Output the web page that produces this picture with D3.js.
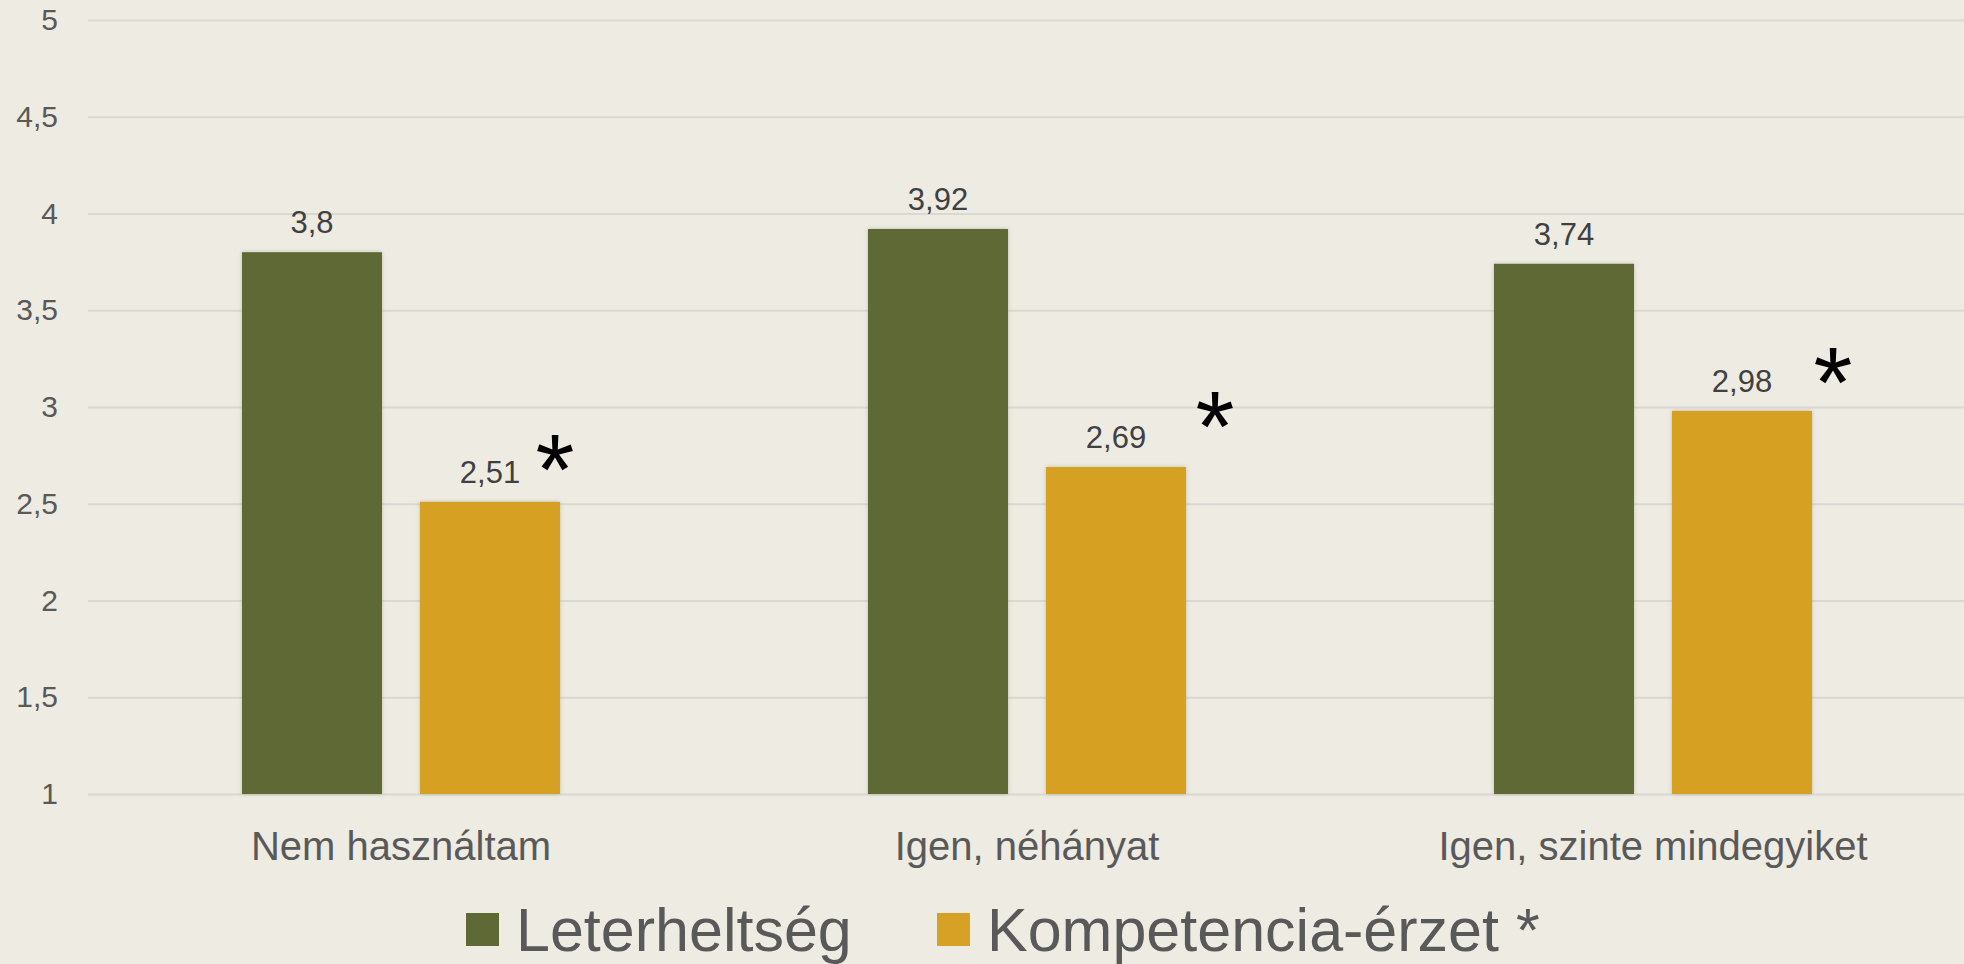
<!DOCTYPE html>
<html>
<head>
<meta charset="utf-8">
<script src="https://cdn.jsdelivr.net/npm/d3@7"></script>
<style>
  html, body { margin: 0; padding: 0; background: #eeebe3; }
  svg { display: block; }
  text { font-family: "Liberation Sans", Arial, sans-serif; }
</style>
</head>
<body>
<svg id="chart"></svg>
<script>
// data
var categories = ['Nem használtam', 'Igen, néhányat', 'Igen, szinte mindegyiket'];
var seriesNames = ['Leterheltség', 'Kompetencia-érzet *'];
var leterheltseg = [3.8, 3.92, 3.74];
var kompetencia = [2.51, 2.69, 2.98];
var significant = [false, true];   // which series gets the star
var yTicks = [1, 1.5, 2, 2.5, 3, 3.5, 4, 4.5, 5];

var colors = ['#5f6935', '#d6a124'];
var width = 1964, height = 964;
var margin = {top: 20, right: -2, bottom: 170, left: 88};

var svg = d3.select('#chart').attr('width', width).attr('height', height);

svg.append('rect').attr('width', width).attr('height', height).attr('fill', '#eeebe3');

var defs = svg.append('defs');
var glow = defs.append('filter').attr('id', 'glow')
    .attr('x', '-10%').attr('y', '-10%').attr('width', '120%').attr('height', '120%');
glow.append('feDropShadow').attr('dx', 0).attr('dy', 0).attr('stdDeviation', 2)
    .attr('flood-color', '#8a9070').attr('flood-opacity', 0.45);

var x0 = d3.scaleBand()
    .domain(categories)
    .range([margin.left, width - margin.right])
    .paddingInner(0.492).paddingOuter(0.246);

var x1 = d3.scaleBand()
    .domain([0, 1])
    .range([0, x0.bandwidth()])
    .paddingInner(0.2135).paddingOuter(0);

var y = d3.scaleLinear().domain([1, 5]).range([height - margin.bottom, margin.top]);

var fmt = function(v) { return String(v).replace('.', ','); };

// gridlines + y labels
var yAxis = svg.append('g')
    .attr('transform', 'translate(' + margin.left + ',0)')
    .call(d3.axisLeft(y).tickValues(yTicks).tickFormat(fmt)
        .tickSize(-(width - margin.left)).tickPadding(30));
yAxis.select('.domain').remove();
yAxis.selectAll('.tick line').attr('stroke', '#d9d8d3').attr('stroke-width', 2);
yAxis.selectAll('.tick text')
    .attr('fill', '#595959')
    .style('font-size', '30px');

// bars
var series = [leterheltseg, kompetencia];
var groups = svg.append('g').selectAll('g')
    .data(categories)
    .enter().append('g')
    .attr('transform', function(d) { return 'translate(' + x0(d) + ',0)'; });

var bars = groups.selectAll('g.bar')
    .data(function(d, i) {
        return series.map(function(s, k) { return {k: k, v: s[i], cat: i}; });
    })
    .enter().append('g').attr('class', 'bar');

bars.append('rect')
    .attr('x', function(d) { return x1(d.k); })
    .attr('width', x1.bandwidth())
    .attr('y', function(d) { return y(d.v); })
    .attr('height', function(d) { return y(1) - y(d.v); })
    .attr('fill', function(d) { return colors[d.k]; })
    .attr('filter', 'url(#glow)');

bars.append('text')
    .attr('x', function(d) { return x1(d.k) + x1.bandwidth() / 2; })
    .attr('y', function(d) { return y(d.v) - 19; })
    .attr('text-anchor', 'middle')
    .attr('fill', '#404040')
    .style('font-size', '31px')
    .text(function(d) { return fmt(d.v); });

// significance stars, nudged by hand like in the original
var starNudge = [[-5, -46], [29, -54], [21, -42]];
bars.filter(function(d) { return significant[d.k]; })
    .append('text')
    .attr('x', function(d) { return x1(d.k) + x1.bandwidth() + starNudge[d.cat][0]; })
    .attr('y', function(d) { return y(d.v) + starNudge[d.cat][1] + 48; })
    .attr('text-anchor', 'middle')
    .attr('fill', '#000')
    .style('font-size', '100px')
    .text('*');

// category labels
svg.append('g').selectAll('text')
    .data(categories)
    .enter().append('text')
    .attr('x', function(d) { return x0(d) + x0.bandwidth() / 2; })
    .attr('y', 860)
    .attr('text-anchor', 'middle')
    .attr('fill', '#595959')
    .style('font-size', '40px')
    .text(function(d) { return d; });

// legend
var legendX = [466, 937];
var legend = svg.append('g').selectAll('g')
    .data(seriesNames)
    .enter().append('g')
    .attr('transform', function(d, i) { return 'translate(' + legendX[i] + ',913)'; });
legend.append('rect')
    .attr('width', 33).attr('height', 33)
    .attr('fill', function(d, i) { return colors[i]; });
legend.append('text')
    .attr('x', 50).attr('y', 38)
    .attr('fill', '#595959')
    .style('font-size', '61px')
    .text(function(d) { return d; });
</script>
</body>
</html>
